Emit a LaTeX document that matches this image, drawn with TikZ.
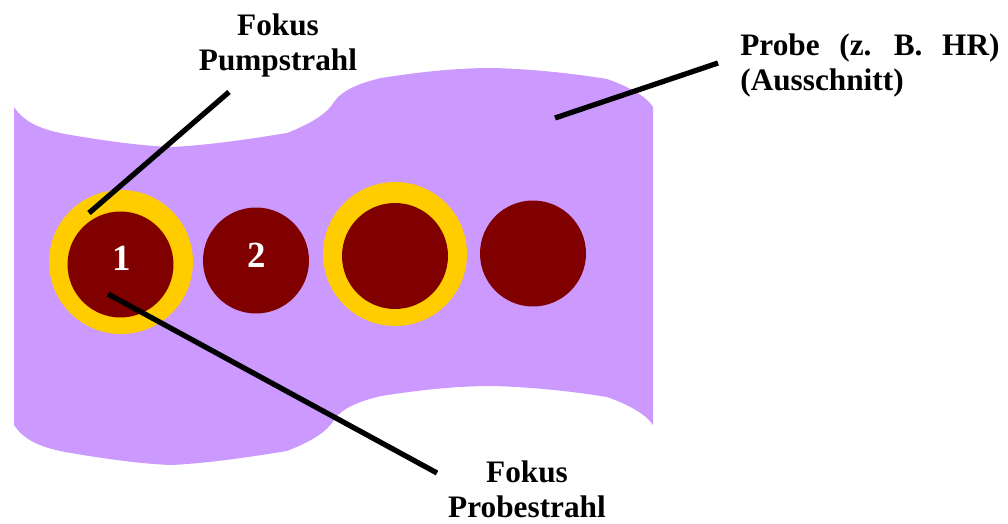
\documentclass[tikz,border=0pt]{standalone}
\usepackage{fontspec}
\setmainfont{Liberation Serif}
\usepackage{tikz}
\usetikzlibrary{positioning}
\definecolor{cSample}{HTML}{CC99FF}
\definecolor{cRing}{HTML}{FFCC00}
\definecolor{cSpot}{HTML}{800000}
\tikzset{
  sample/.style={fill=cSample},
  ring/.style={circle,fill=cRing,inner sep=0pt,minimum size=2.88cm},
  spot/.style={circle,fill=cSpot,inner sep=0pt,minimum size=2.12cm},
  num/.style={text=white,inner sep=0pt,font=\bfseries\fontsize{21}{24}\selectfont},
  lead/.style={line width=3pt,black},
  lbl/.style={inner sep=0pt,font=\bfseries\fontsize{17.8}{19.9}\selectfont},
}

\begin{document}
\begin{tikzpicture}[x=0.02cm,y=-0.02cm]
  \useasboundingbox (0,0) rectangle (1008,524);
  % sample (cut-out)
  \fill[sample] (14,107) .. controls (25,124) and (45,130) .. (65,134) .. controls (100,140) and (140,146) .. (172,147)
    .. controls (210,145) and (250,139) .. (287,133)
    .. controls (315,122) and (328,112) .. (334,102) .. controls (342,90) and (360,83) .. (381,78)
    .. controls (420,72) and (455,68) .. (493,68) .. controls (530,69) and (570,73) .. (607,79)
    .. controls (630,87) and (648,98) .. (653,107)
    -- (653,425) .. controls (648,416) and (630,405) .. (607,397)
    .. controls (570,391) and (530,387) .. (493,386) .. controls (455,386) and (420,390) .. (381,396)
    .. controls (360,401) and (342,408) .. (334,420) .. controls (328,430) and (315,440) .. (287,451)
    .. controls (250,457) and (210,463) .. (172,465) .. controls (140,464) and (100,458) .. (65,452)
    .. controls (45,448) and (25,442) .. (14,425) -- cycle;
  % foci
  \node[ring] (ring1) at (121,262) {};
  \node[spot] (spot1) at (120.5,264.5) {};
  \node[spot] (spot2) at (256,260.5) {};
  \node[ring] (ring3) at (395,254) {};
  \node[spot] (spot3) at (395,256) {};
  \node[spot] (spot4) at (533,253.5) {};
  \node[num] (num1) at (122,258) {1};
  \node[num] (num2) at (257,255) {2};
  % labels
  \node[lbl,align=center] (pumpLbl) at (278,45.5) {Fokus\\Pumpstrahl};
  \node[lbl,align=center] (probeLbl) at (527,489) {Fokus\\Probestrahl};
  \node[lbl,align=left,anchor=west] (sampleLbl) at (740,65) {\spaceskip=.63em Probe (z. B. HR)\\(Ausschnitt)};
  % leader lines
  \coordinate (pumpEnd) at (229,92);
  \coordinate (pumpTip) at (89,213);
  \coordinate (probeEnd) at (437,473);
  \coordinate (probeTip) at (108,294);
  \coordinate (sampleEnd) at (718,63);
  \coordinate (sampleTip) at (555,118);
  \draw[lead] (pumpEnd) -- (pumpTip);
  \draw[lead] (probeEnd) -- (probeTip);
  \draw[lead] (sampleEnd) -- (sampleTip);
\end{tikzpicture}
\end{document}
